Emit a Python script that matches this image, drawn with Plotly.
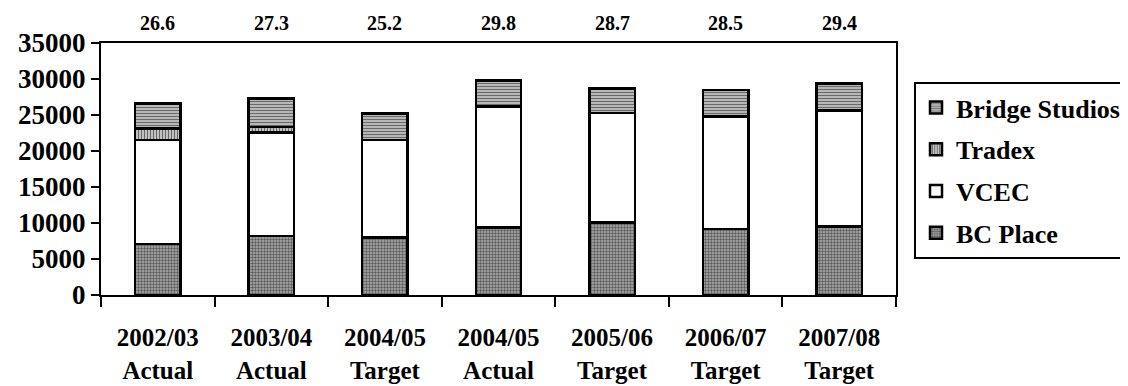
import plotly.graph_objects as go

categories = ["2002/03<br>Actual", "2003/04<br>Actual", "2004/05<br>Target", "2004/05<br>Actual",
              "2005/06<br>Target", "2006/07<br>Target", "2007/08<br>Target"]
bc_place = [7100, 8200, 8000, 9400, 10100, 9200, 9500]
vcec = [14400, 14400, 13500, 16800, 15200, 15600, 16100]
tradex = [1600, 700, 0, 0, 0, 0, 0]
bridge_studios = [3500, 4000, 3700, 3600, 3400, 3700, 3800]
y_ticks = [0, 5000, 10000, 15000, 20000, 25000, 30000, 35000]

FONT = "Liberation Serif"
W, H = 1120, 378  # page body has an 8px offset

series = [
    ("BC Place", bc_place, dict(shape=".", fgcolor="#5a5a5a", bgcolor="#b0b0b0", size=3, solidity=0.5, fillmode="replace"), 4),
    ("VCEC", vcec, None, 3),
    ("Tradex", tradex, dict(shape="|", fgcolor="#6a6a6a", bgcolor="#dddddd", size=3, solidity=0.5, fillmode="replace"), 2),
    ("Bridge Studios", bridge_studios, dict(shape="-", fgcolor="#6a6a6a", bgcolor="#d0d0d0", size=3, solidity=0.5, fillmode="replace"), 1),
]

fig = go.Figure()
for name, vals, pat, rank in series:
    marker = dict(color="white", line=dict(color="black", width=2.5))
    if pat is not None:
        marker["pattern"] = pat
    fig.add_trace(go.Bar(x=categories, y=vals, name=f"<b>{name}</b>", marker=marker,
                         width=0.4, legendgroup=name, legendrank=rank))

totals = [a + b + c + d for a, b, c, d in zip(bc_place, vcec, tradex, bridge_studios)]
for cat, tot in zip(categories, totals):
    fig.add_annotation(x=cat, y=1, xref="x", yref="paper", yshift=7, yanchor="bottom",
                       text=f"<b>{tot/1000:.1f}</b>", showarrow=False,
                       font=dict(family=FONT, size=20, color="black"))

fig.update_layout(
    barmode="stack",
    width=W, height=H,
    margin=dict(l=93, r=232, t=35, b=91, autoexpand=False),
    paper_bgcolor="white", plot_bgcolor="white",
    font=dict(family=FONT, color="black"),
    showlegend=True,
    legend=dict(traceorder="grouped", tracegroupgap=5,
                x=906/W, xref="container", xanchor="left",
                y=1 - 74/H, yref="container", yanchor="top",
                bordercolor="black", borderwidth=2, bgcolor="white",
                font=dict(family=FONT, size=26, color="black")),
)
fig.update_xaxes(
    showline=True, linecolor="black", linewidth=2, mirror=True,
    ticks="outside", tickson="boundaries", ticklen=10, tickwidth=2, tickcolor="black",
    tickfont=dict(family=FONT, size=25, color="black"),
    ticklabelstandoff=19,
    tickprefix="<b>", ticksuffix="</b>",
)
fig.update_yaxes(
    range=[0, 35000], tickvals=y_ticks, ticktext=[f"<b>{v}</b>" for v in y_ticks],
    showline=True, linecolor="black", linewidth=2, mirror=True,
    ticks="outside", ticklen=8, tickwidth=2, tickcolor="black",
    showgrid=False, zeroline=False,
    tickfont=dict(family=FONT, size=27, color="black"),
)
fig.write_html("out.html")
